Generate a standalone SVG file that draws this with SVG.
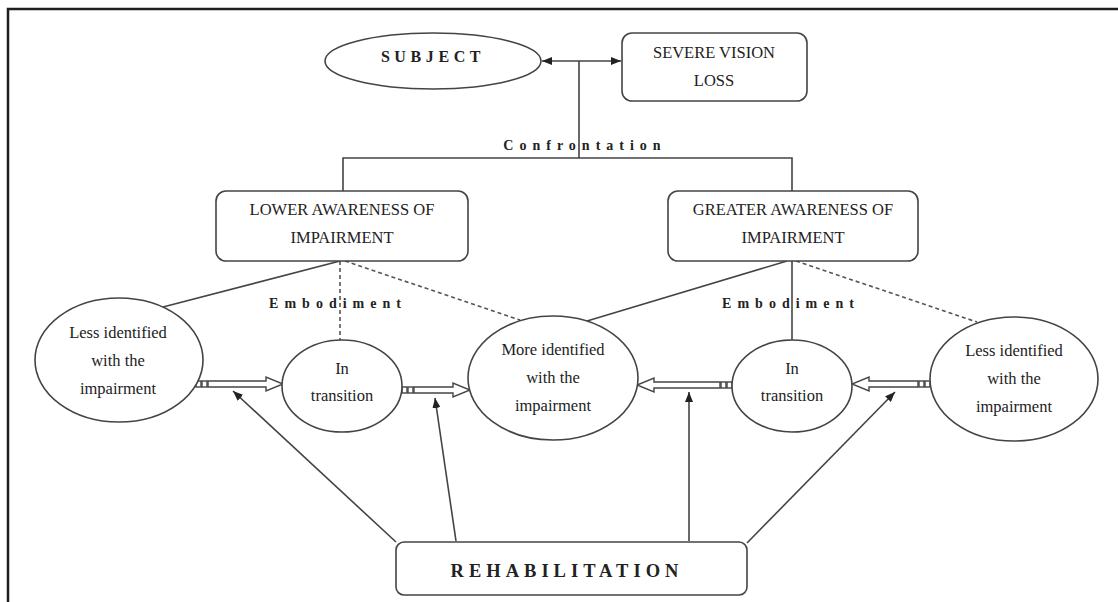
<svg xmlns="http://www.w3.org/2000/svg" width="1118" height="602" viewBox="0 0 1118 602">
<style>
.frame{fill:none;stroke:#1e1e1e;stroke-width:2.5}
.shape{fill:#fff;stroke:#444;stroke-width:1.6}
.ln{fill:none;stroke:#444;stroke-width:1.6}
.dash{fill:none;stroke:#555;stroke-width:1.6;stroke-dasharray:4 3}
.ha{fill:#fff;stroke:#444;stroke-width:1.4}
.t{font-family:"Liberation Serif","Times New Roman",serif;font-size:16.5px;fill:#222;text-anchor:middle}
.b{font-family:"Liberation Serif","Times New Roman",serif;font-weight:bold;fill:#222;text-anchor:middle}
</style>
<defs>
<marker id="ah" viewBox="0 0 10 8" refX="10" refY="4" markerWidth="10" markerHeight="8" markerUnits="userSpaceOnUse" orient="auto-start-reverse">
<path d="M0,0 L10,4 L0,8 Z" fill="#222"/>
</marker>
</defs>
<rect width="1118" height="602" fill="#fff"/>
<path class="frame" d="M8,602 V9 H1118"/>

<g id="connectors">
<line class="ln" x1="542" y1="61" x2="621" y2="61" marker-start="url(#ah)" marker-end="url(#ah)"/>
<path class="ln" d="M579,61 V158 M343,191 V158 H792 V191"/>
<line class="ln" x1="340" y1="261" x2="163" y2="307"/>
<line class="dash" x1="340" y1="261" x2="340" y2="340"/>
<line class="dash" x1="345" y1="261" x2="520" y2="320"/>
<line class="ln" x1="787" y1="261" x2="587" y2="321"/>
<line class="ln" x1="792" y1="261" x2="792" y2="340"/>
<line class="dash" x1="796" y1="261" x2="977" y2="322"/>
<line class="ln" x1="396" y1="542" x2="233" y2="391" marker-end="url(#ah)"/>
<line class="ln" x1="456" y1="541" x2="435" y2="398" marker-end="url(#ah)"/>
<line class="ln" x1="689" y1="541" x2="689" y2="392" marker-end="url(#ah)"/>
<line class="ln" x1="747" y1="543" x2="895" y2="392" marker-end="url(#ah)"/>
<g transform="translate(196,384)">
<rect class="ha" x="0" y="-3" width="5" height="6"/><rect class="ha" x="6" y="-3" width="5" height="6"/>
<path class="ha" d="M12,-3 H70 V-7 L87,0 L70,7 V3 H12 Z"/>
</g>
<g transform="translate(402,390)">
<rect class="ha" x="0" y="-3" width="5" height="6"/><rect class="ha" x="6" y="-3" width="5" height="6"/>
<path class="ha" d="M12,-3 H51 V-7 L68,0 L51,7 V3 H12 Z"/>
</g>
<g transform="translate(732,385) scale(-1,1)">
<rect class="ha" x="0" y="-3" width="5" height="6"/><rect class="ha" x="6" y="-3" width="5" height="6"/>
<path class="ha" d="M12,-3 H78 V-7 L95,0 L78,7 V3 H12 Z"/>
</g>
<g transform="translate(930,384) scale(-1,1)">
<rect class="ha" x="0" y="-3" width="5" height="6"/><rect class="ha" x="6" y="-3" width="5" height="6"/>
<path class="ha" d="M12,-3 H61 V-7 L78,0 L61,7 V3 H12 Z"/>
</g>
<text class="b" x="585" y="150" font-size="14" letter-spacing="6">Confrontation</text>
<text class="b" x="338" y="308" font-size="14" letter-spacing="6">Embodiment</text>
<text class="b" x="791" y="308" font-size="14" letter-spacing="6">Embodiment</text>
</g>

<g id="subject">
<ellipse class="shape" cx="433" cy="61" rx="108" ry="28"/>
<text class="b" x="433" y="62" font-size="16" letter-spacing="4.6">SUBJECT</text>
</g>
<g id="severe">
<rect class="shape" x="622" y="33" width="185" height="68" rx="10"/>
<text class="t" x="714" y="58">SEVERE VISION</text>
<text class="t" x="714" y="86">LOSS</text>
</g>
<g id="lower">
<rect class="shape" x="216" y="191" width="252" height="70" rx="10"/>
<text class="t" x="342" y="215">LOWER AWARENESS OF</text>
<text class="t" x="342" y="243">IMPAIRMENT</text>
</g>
<g id="greater">
<rect class="shape" x="668" y="191" width="250" height="70" rx="10"/>
<text class="t" x="793" y="215">GREATER AWARENESS OF</text>
<text class="t" x="793" y="243">IMPAIRMENT</text>
</g>
<g id="less-left">
<ellipse class="shape" cx="119" cy="360" rx="84" ry="62"/>
<text class="t" x="118" y="338">Less identified</text>
<text class="t" x="118" y="366">with the</text>
<text class="t" x="118" y="394">impairment</text>
</g>
<g id="transition-left">
<ellipse class="shape" cx="342" cy="386" rx="60" ry="46"/>
<text class="t" x="342" y="374">In</text>
<text class="t" x="342" y="401">transition</text>
</g>
<g id="more">
<ellipse class="shape" cx="553" cy="378" rx="85" ry="62"/>
<text class="t" x="553" y="355">More identified</text>
<text class="t" x="553" y="383">with the</text>
<text class="t" x="553" y="411">impairment</text>
</g>
<g id="transition-right">
<ellipse class="shape" cx="792" cy="386" rx="60" ry="46"/>
<text class="t" x="792" y="374">In</text>
<text class="t" x="792" y="401">transition</text>
</g>
<g id="less-right">
<ellipse class="shape" cx="1014" cy="379" rx="84" ry="62"/>
<text class="t" x="1014" y="356">Less identified</text>
<text class="t" x="1014" y="384">with the</text>
<text class="t" x="1014" y="412">impairment</text>
</g>
<g id="rehab">
<rect class="shape" x="396" y="542" width="351" height="53" rx="8"/>
<text class="b" x="567" y="577" font-size="18.5" letter-spacing="5">REHABILITATION</text>
</g>
</svg>
